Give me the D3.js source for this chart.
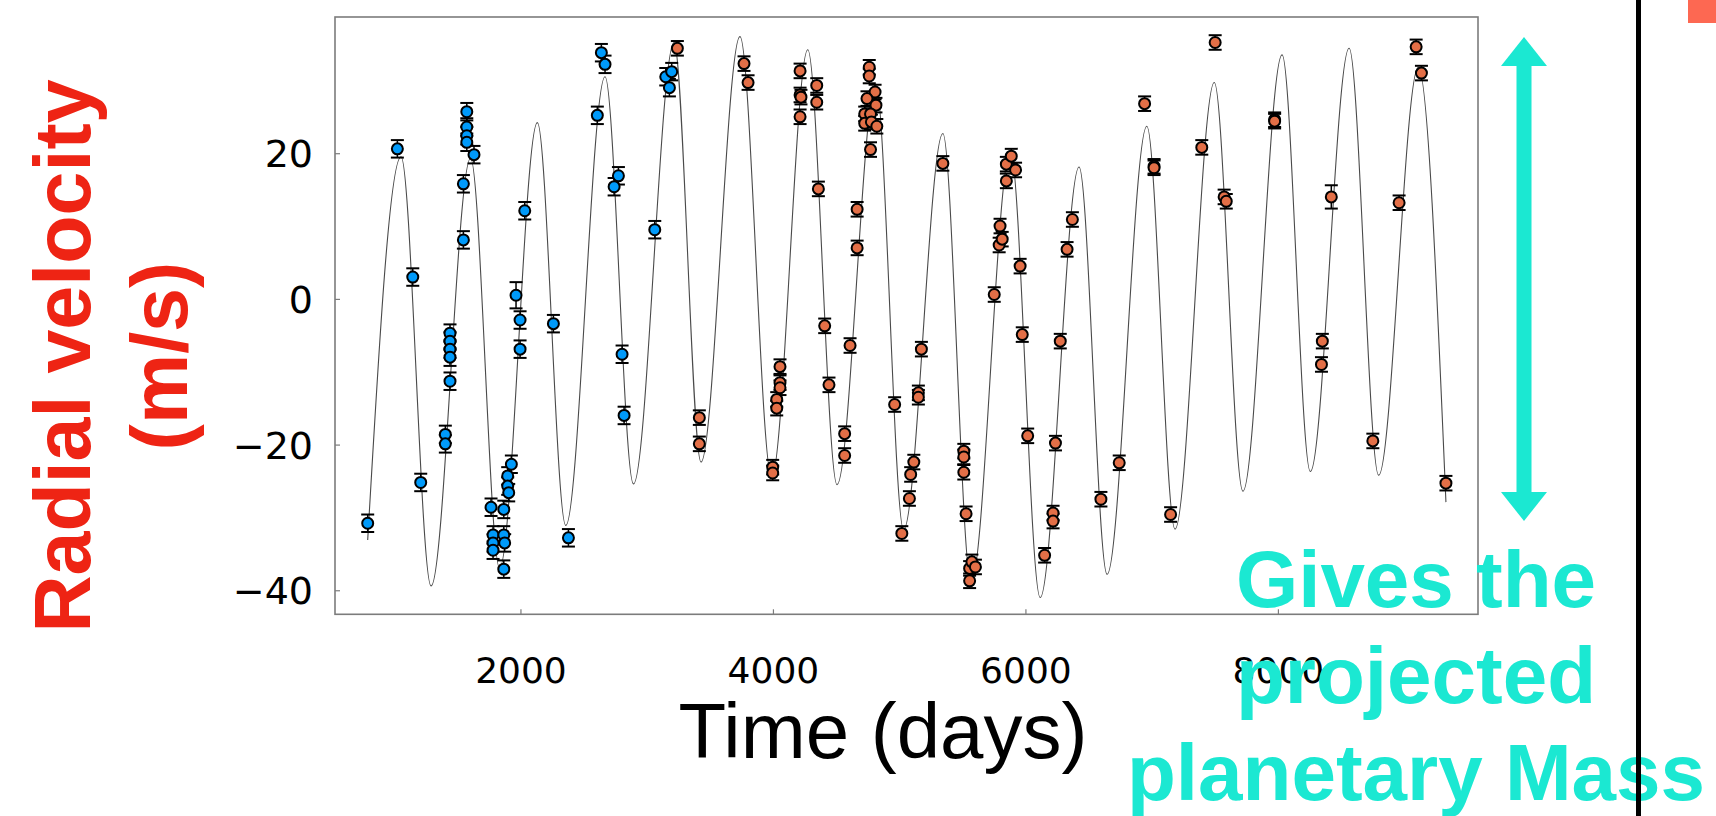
<!DOCTYPE html>
<html><head><meta charset="utf-8">
<script src="https://cdn.jsdelivr.net/npm/d3@7"></script>
<style>html,body{margin:0;padding:0;background:#fff}svg{display:block}</style>
</head><body>
<script>
// ---- data ----
const xTickValues = [2000, 4000, 6000, 8000];
const yTickValues = [20, 0, -20, -40];
const xTitle = "Time (days)";
const yTitleLines = ["Radial velocity", "(m/s)"];
const noteLines = ["Gives the", "projected", "planetary Mass"];

// series 1 (blue): [time, rv, error]
const series1 = [
  [790,-30.8,1.2],[1025,20.6,1.2],[1147,3.0,1.2],[1210,-25.2,1.2],
  [1405,-18.6,1.2],[1405,-19.9,1.2],[1442,-4.7,1.2],[1442,-5.8,1.2],[1442,-6.9,1.2],
  [1442,-8.0,1.2],[1442,-11.3,1.2],[1548,8.1,1.2],[1548,15.8,1.2],[1575,25.7,1.2],
  [1575,23.6,1.2],[1575,22.4,1.2],[1575,21.5,1.2],[1632,19.8,1.2],[1767,-28.6,1.2],
  [1783,-32.4,1.2],[1783,-33.5,1.2],[1783,-34.5,1.2],[1868,-28.9,1.2],[1868,-32.4,1.2],
  [1875,-33.5,1.2],[1868,-37.1,1.2],[1899,-24.3,1.2],[1899,-25.7,1.2],[1907,-26.6,1.2],
  [1928,-22.7,1.2],[1965,0.5,1.8],[1997,-2.9,1.2],[1997,-6.9,1.2],[2034,12.1,1.2],
  [2261,-3.4,1.2],[2380,-32.8,1.2],[2609,25.2,1.2],[2641,33.8,1.2],[2670,32.2,1.2],
  [2742,15.4,1.2],[2776,16.9,1.2],[2805,-7.6,1.2],[2821,-16.0,1.2],[3064,9.5,1.2],
  [3151,30.5,1.2],[3180,29.0,1.2],[3198,31.2,1.2]
];

// series 2 (orange): [time, rv, error]
const series2 = [
  [3243,34.4,1.0],[3417,-16.3,1.0],[3417,-19.9,1.0],[3771,32.3,1.0],[3803,29.7,1.0],
  [3998,-23.1,1.0],[3998,-23.9,1.0],[4030,-13.8,1.0],[4030,-15.0,1.0],[4056,-9.3,1.0],
  [4056,-11.5,1.0],[4056,-12.2,1.0],[4215,31.3,1.0],[4215,28.0,1.0],[4222,27.7,1.0],
  [4215,25.0,1.0],[4347,29.3,1.0],[4347,27.0,1.0],[4360,15.1,1.0],[4410,-3.7,1.0],
  [4444,-11.8,1.0],[4568,-18.5,1.0],[4568,-21.5,1.0],[4611,-6.4,1.0],[4667,12.3,1.0],
  [4667,7.0,1.0],[4763,31.8,1.0],[4763,30.6,1.0],[4809,28.4,1.0],[4745,27.5,1.0],
  [4816,26.6,1.0],[4727,25.4,1.0],[4773,25.4,1.0],[4727,24.1,1.0],[4780,24.3,1.0],
  [4823,23.7,1.0],[4773,20.5,1.0],[4964,-14.5,1.0],[5021,-32.2,1.0],[5081,-27.4,1.0],
  [5091,-24.1,1.0],[5116,-22.4,1.0],[5152,-12.9,1.0],[5152,-13.5,1.0],[5176,-6.9,1.0],
  [5346,18.6,1.0],[5512,-20.9,1.0],[5512,-21.7,1.0],[5512,-23.8,1.0],[5530,-29.5,1.0],
  [5558,-38.7,1.0],[5558,-37.0,1.0],[5576,-36.1,1.0],[5604,-36.8,1.0],[5753,0.6,1.0],
  [5792,7.4,1.0],[5816,8.2,1.0],[5799,10.0,1.0],[5849,16.2,1.0],[5849,18.5,1.0],
  [5888,19.6,1.0],[5922,17.7,1.0],[5958,4.5,1.0],[5975,-4.9,1.0],[6018,-18.8,1.0],
  [6152,-35.2,1.0],[6219,-29.4,1.0],[6219,-30.5,1.0],[6238,-19.8,1.0],[6276,-5.8,1.0],
  [6330,6.8,1.0],[6372,10.9,1.0],[6598,-27.5,1.0],[6743,-22.5,1.0],[6944,26.8,1.0],
  [7019,18.2,1.0],[7019,18.0,1.0],[7150,-29.6,1.0],[7397,20.8,1.0],[7503,35.2,1.0],
  [7574,14.0,1.0],[7591,13.4,1.0],[7974,24.6,1.0],[7974,24.4,1.0],[8345,-9.0,1.0],
  [8352,-5.8,1.0],[8423,14.0,1.6],[8752,-19.5,1.0],[8960,13.2,1.0],[9095,34.6,1.0],
  [9137,31.0,1.0],[9331,-25.3,1.0]
];

// model curve: start, successive maxima/minima, end  [time, rv]
const modelCurve = [
  [790,-33.1],[1054,19.5],[1292,-39.4],[1605,19.3],[1835,-37.0],[2134,24.2],
  [2359,-31.1],[2670,30.5],[2895,-25.4],[3217,35.2],[3430,-22.4],[3739,36.0],
  [3990,-24.5],[4276,34.2],[4508,-25.5],[4815,29.5],[5035,-31.7],[5346,22.7],
  [5570,-39.0],[5881,20.3],[6117,-41.0],[6425,18.1],[6647,-37.8],[6962,23.7],
  [7185,-31.6],[7496,29.7],[7723,-26.4],[8033,33.5],[8257,-23.7],[8564,34.4],
  [8798,-24.2],[9112,31.8],[9331,-27.9]
];

// ---- layout ----
const W = 1716, H = 816;
const frame = {left: 335, right: 1478, top: 17, bottom: 614.3};
const color1 = "#009AFA", color2 = "#E36F47";
const noteColor = "#1be8d2", redColor = "#ee2414";

const svg = d3.select("body").append("svg").attr("width", W).attr("height", H);
svg.append("rect").attr("width", W).attr("height", H).attr("fill", "#fff");

const x = d3.scaleLinear().domain([531, 9585]).range([frame.left, frame.right]);
const y = d3.scaleLinear().domain([-43.3, 38.7]).range([frame.bottom, frame.top]);

// frame
svg.append("rect")
  .attr("x", frame.left).attr("y", frame.top)
  .attr("width", frame.right - frame.left).attr("height", frame.bottom - frame.top)
  .attr("fill", "#fff").attr("stroke", "#7c7c7c").attr("stroke-width", 1.6);

// axes via d3 axis generators (inward ticks, no domain)
const yAxis = svg.append("g").attr("transform", `translate(${frame.left},0)`)
  .call(d3.axisLeft(y).tickValues(yTickValues).tickSizeInner(-5).tickSizeOuter(0).tickPadding(22)
        .tickFormat(d => d < 0 ? "\u2212" + Math.abs(d) : d));
yAxis.select(".domain").remove();
yAxis.selectAll("line").attr("stroke", "#7c7c7c").attr("stroke-width", 1.2);
yAxis.selectAll("text").attr("font-family", "DejaVu Sans").attr("font-size", 38)
  .attr("fill", "#000").attr("dy", "0.36em");

const xAxis = svg.append("g").attr("transform", `translate(0,${frame.bottom})`)
  .call(d3.axisBottom(x).tickValues(xTickValues).tickSizeInner(-5).tickSizeOuter(0).tickPadding(0)
        .tickFormat(d3.format("d")));
xAxis.select(".domain").remove();
xAxis.selectAll("line").attr("stroke", "#7c7c7c").attr("stroke-width", 1.2);
xAxis.selectAll("text").attr("font-family", "DejaVu Sans").attr("font-size", 36)
  .attr("fill", "#000").attr("dy", null).attr("y", 683 - frame.bottom);

// model curve
const line = d3.line().x(d => x(d[0])).y(d => y(d[1])).curve(d3.curveMonotoneX);
svg.append("path").datum(modelCurve).attr("d", line)
  .attr("fill", "none").attr("stroke", "#4a4a4a").attr("stroke-width", 1.1);

// error bars + markers
function drawSeries(data, fill) {
  const g = svg.append("g");
  const eb = g.selectAll("g.eb").data(data).join("g");
  eb.append("line")
    .attr("x1", d => x(d[0])).attr("x2", d => x(d[0]))
    .attr("y1", d => y(d[1] - d[2])).attr("y2", d => y(d[1] + d[2]))
    .attr("stroke", "#000").attr("stroke-width", 1.5);
  [-1, 1].forEach(s => {
    eb.append("line")
      .attr("x1", d => x(d[0]) - 6.5).attr("x2", d => x(d[0]) + 6.5)
      .attr("y1", d => y(d[1] + s * d[2])).attr("y2", d => y(d[1] + s * d[2]))
      .attr("stroke", "#000").attr("stroke-width", 2);
  });
  g.selectAll("circle").data(data).join("circle")
    .attr("cx", d => x(d[0])).attr("cy", d => y(d[1])).attr("r", 5.5)
    .attr("fill", fill).attr("stroke", "#000").attr("stroke-width", 2);
}
drawSeries(series1, color1);
drawSeries(series2, color2);

// x title
svg.append("text").attr("x", 883).attr("y", 758).attr("text-anchor", "middle")
  .attr("font-family", "Liberation Sans, Arial, sans-serif").attr("font-size", 78)
  .attr("fill", "#000").text(xTitle);

// y title (red, rotated)
const yTitleX = [90, 187];
yTitleLines.forEach((t, i) => {
  svg.append("text")
    .attr("transform", `translate(${yTitleX[i]},356) rotate(-90)`)
    .attr("text-anchor", "middle")
    .attr("font-family", "Liberation Sans, Arial, sans-serif").attr("font-weight", "bold")
    .attr("font-size", 79).attr("fill", redColor).text(t);
});

// double arrow
const ax = 1524;
svg.append("rect").attr("x", ax - 7.5).attr("y", 64).attr("width", 15).attr("height", 430).attr("fill", noteColor);
svg.append("polygon").attr("points", `${ax},37 ${ax-23},66 ${ax+23},66`).attr("fill", noteColor);
svg.append("polygon").attr("points", `${ax},521 ${ax-23},492 ${ax+23},492`).attr("fill", noteColor);

// note text
const noteY = [607, 703, 800];
noteLines.forEach((t, i) => {
  svg.append("text").attr("x", 1416).attr("y", noteY[i]).attr("text-anchor", "middle")
    .attr("font-family", "Liberation Sans, Arial, sans-serif").attr("font-weight", "bold")
    .attr("font-size", 80).attr("fill", noteColor).text(t);
});

// right-side decorations
svg.append("rect").attr("x", 1636).attr("y", 0).attr("width", 5).attr("height", H).attr("fill", "#000");
svg.append("rect").attr("x", 1688).attr("y", 0).attr("width", 28).attr("height", 23).attr("fill", "#fd6852");
</script>
</body></html>
